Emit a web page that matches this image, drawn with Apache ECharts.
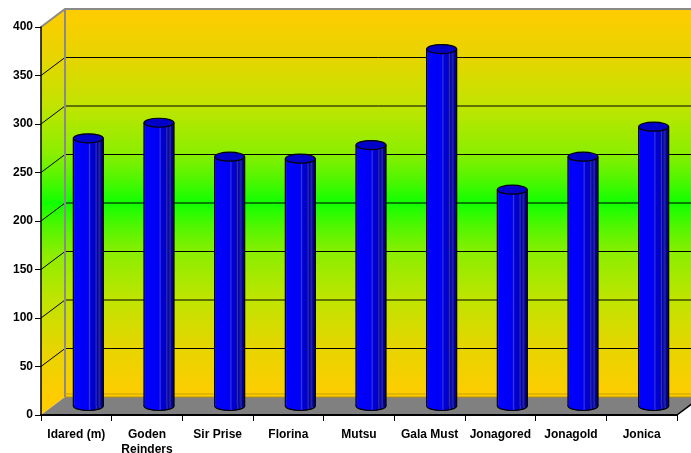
<!DOCTYPE html>
<html>
<head>
<meta charset="utf-8">
<script src="https://cdn.jsdelivr.net/npm/echarts@6/dist/echarts.min.js"></script>
<style>html,body{margin:0;padding:0;background:#fff}#c{width:691px;height:453px}</style>
</head>
<body>
<div id="c"></div>
<script>
const categories = ['Idared (m)', 'Goden\nReinders', 'Sir Prise', 'Florina', 'Mutsu', 'Gala Must', 'Jonagored', 'Jonagold', 'Jonica'];
const values = [276, 292, 257, 255, 269, 368, 223, 257, 288];
const yTicks = [0, 50, 100, 150, 200, 250, 300, 350, 400];

const DX = 24, DY = -18, R = 15, RY = 4.5;
const FONT = '"Liberation Sans", Arial, sans-serif';

const chart = echarts.init(document.getElementById('c'), null, {renderer: 'canvas'});

function sceneItem(params, api) {
  const cs = params.coordSys;
  const left = cs.x, right = cs.x + cs.width;
  const W = api.getWidth() + 40;
  const yMax = yTicks[yTicks.length - 1];
  const yOf = v => api.coord([0, v])[1];
  const yTop = yOf(yMax), yBot = yOf(0);
  const grad = new echarts.graphic.LinearGradient(0, yTop + DY, 0, yBot + DY, [
    {offset: 0, color: '#ffcc00'},
    {offset: 0.12, color: '#e8d400'},
    {offset: 0.25, color: '#c0e400'},
    {offset: 0.37, color: '#8cee00'},
    {offset: 0.44, color: '#50f600'},
    {offset: 0.5, color: '#10ff00'},
    {offset: 0.56, color: '#50f600'},
    {offset: 0.63, color: '#8cee00'},
    {offset: 0.75, color: '#c0e400'},
    {offset: 0.88, color: '#e8d400'},
    {offset: 1, color: '#ffcc00'}
  ], true);
  const children = [];
  children.push({type: 'polygon', shape: {points: [
    [left, yTop], [left + DX, yTop + DY], [W, yTop + DY], [W, yBot + DY], [left + DX, yBot + DY], [left, yBot]
  ]}, style: {fill: grad}});
  yTicks.forEach(v => {
    if (v === 0 || v === yMax) return;
    const y = yOf(v);
    children.push({type: 'polyline', shape: {points: [[left, y], [left + DX, y + DY], [W, y + DY]]},
      style: {stroke: '#000', lineWidth: 1, fill: null}});
  });
  children.push({type: 'polyline', shape: {points: [[left, yTop], [left + DX, yTop + DY], [W, yTop + DY]]},
    style: {stroke: '#8a8a8a', lineWidth: 2, fill: null}});
  children.push({type: 'line', shape: {x1: left + DX, y1: yTop + DY, x2: left + DX, y2: yBot + DY},
    style: {stroke: '#8a8a8a', lineWidth: 2}});
  children.push({type: 'line', shape: {x1: left + DX, y1: yBot + DY - 3, x2: W, y2: yBot + DY - 3},
    style: {stroke: '#c8a000', lineWidth: 1}});
  children.push({type: 'polygon', shape: {points: [
    [left, yBot], [left + DX, yBot + DY], [right + DX, yBot + DY], [right, yBot]
  ]}, style: {fill: '#808080'}});
  children.push({type: 'line', shape: {x1: left + DX, y1: yBot + DY, x2: W, y2: yBot + DY},
    style: {stroke: '#b89000', lineWidth: 1}});
  children.push({type: 'line', shape: {x1: right, y1: yBot, x2: right + DX, y2: yBot + DY},
    style: {stroke: '#000', lineWidth: 1.5}});
  return {type: 'group', children: children};
}

function barItem(params, api) {
  const idx = api.value(0);
  const p0 = api.coord([idx, 0]);
  const p1 = api.coord([idx, api.value(1)]);
  const cx = p0[0] + DX / 2;
  const yb = p0[1] + DY / 2;
  const yt = p1[1] + DY / 2;
  const grad = new echarts.graphic.LinearGradient(0, 0, 1, 0, [
    {offset: 0, color: '#3030ff'},
    {offset: 0.06, color: '#0000ff'},
    {offset: 0.5, color: '#0000f4'},
    {offset: 0.54, color: '#3434d8'},
    {offset: 0.58, color: '#0000d8'},
    {offset: 0.72, color: '#0000c4'},
    {offset: 0.76, color: '#3030b0'},
    {offset: 0.8, color: '#0000b0'},
    {offset: 0.88, color: '#28289c'},
    {offset: 0.92, color: '#00009a'},
    {offset: 1, color: '#000080'}
  ]);
  return {type: 'group', children: [
    {type: 'ellipse', shape: {cx: cx, cy: yb, rx: R, ry: RY}, style: {fill: grad, stroke: '#000', lineWidth: 1.2}},
    {type: 'rect', shape: {x: cx - R, y: yt, width: 2 * R, height: yb - yt}, style: {fill: grad}},
    {type: 'line', shape: {x1: cx - R, y1: yt, x2: cx - R, y2: yb}, style: {stroke: '#000', lineWidth: 1.2}},
    {type: 'line', shape: {x1: cx + R, y1: yt, x2: cx + R, y2: yb}, style: {stroke: '#000', lineWidth: 1.2}},
    {type: 'ellipse', shape: {cx: cx, cy: yt, rx: R, ry: RY}, style: {fill: '#0000c8', stroke: '#000', lineWidth: 1.2}}
  ]};
}

chart.setOption({
  animation: false,
  backgroundColor: '#fff',
  grid: {left: 41, right: 14, top: 27, bottom: 38, containLabel: false, outerBoundsMode: 'none'},
  xAxis: {
    type: 'category', data: categories, z: 10,
    axisLine: {lineStyle: {color: '#000', width: 2}},
    axisTick: {show: true, length: 6, lineStyle: {color: '#000', width: 1}},
    axisLabel: {color: '#000', fontWeight: 'bold', fontSize: 12, fontFamily: FONT, margin: 12, lineHeight: 15, interval: 0},
    splitLine: {show: false}
  },
  yAxis: {
    type: 'value', min: 0, max: 400, interval: 50, z: 10,
    axisLine: {show: true, lineStyle: {color: '#000', width: 1.5}},
    axisTick: {show: true, length: 6, lineStyle: {color: '#000', width: 1}},
    axisLabel: {color: '#000', fontWeight: 'bold', fontSize: 12, fontFamily: FONT, margin: 8},
    splitLine: {show: false}
  },
  series: [
    {type: 'custom', name: 'scene', z: 1, silent: true, clip: false, renderItem: sceneItem, data: [[0, 0]]},
    {type: 'custom', name: 'apples', z: 5, clip: false, renderItem: barItem,
      data: values.map((v, i) => [i, v])}
  ]
});
</script>
</body>
</html>
